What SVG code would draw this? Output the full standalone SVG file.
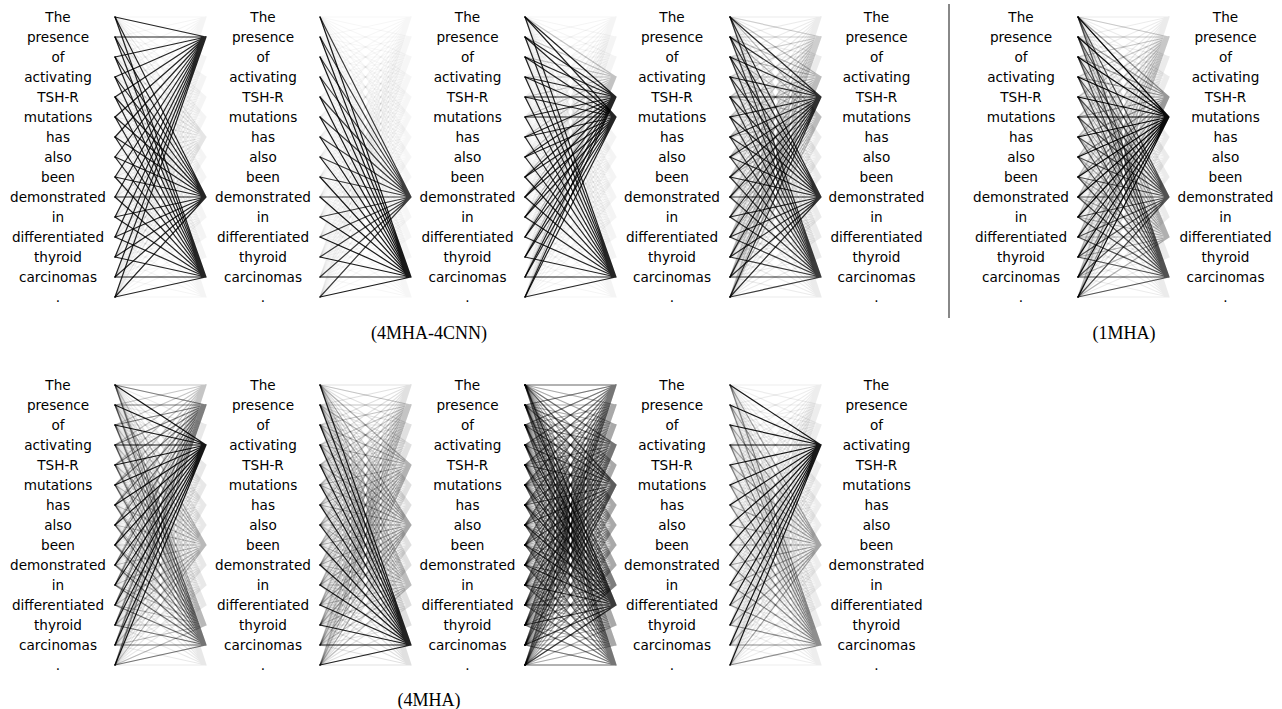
<svg xmlns="http://www.w3.org/2000/svg" xmlns:xlink="http://www.w3.org/1999/xlink" width="1282" height="709" viewBox="0 0 1282 709">
<style>
.w{font-family:"DejaVu Sans","Noto Sans",sans-serif;font-size:13.6px;text-anchor:middle;fill:#000}
.cap{font-family:"Liberation Serif","Times New Roman",serif;font-size:18px;text-anchor:middle;fill:#000}
</style>
<defs>
<g id="mesh">
<path id="f0" d="M0 0L91 0M0 20L91 0M0 40L91 0M0 60L91 0M0 80L91 0M0 100L91 0M0 120L91 0M0 140L91 0M0 160L91 0M0 180L91 0M0 200L91 0M0 220L91 0M0 240L91 0M0 260L91 0M0 280L91 0"/>
<path id="f1" d="M0 0L91 20M0 20L91 20M0 40L91 20M0 60L91 20M0 80L91 20M0 100L91 20M0 120L91 20M0 140L91 20M0 160L91 20M0 180L91 20M0 200L91 20M0 220L91 20M0 240L91 20M0 260L91 20M0 280L91 20"/>
<path id="f2" d="M0 0L91 40M0 20L91 40M0 40L91 40M0 60L91 40M0 80L91 40M0 100L91 40M0 120L91 40M0 140L91 40M0 160L91 40M0 180L91 40M0 200L91 40M0 220L91 40M0 240L91 40M0 260L91 40M0 280L91 40"/>
<path id="f3" d="M0 0L91 60M0 20L91 60M0 40L91 60M0 60L91 60M0 80L91 60M0 100L91 60M0 120L91 60M0 140L91 60M0 160L91 60M0 180L91 60M0 200L91 60M0 220L91 60M0 240L91 60M0 260L91 60M0 280L91 60"/>
<path id="f4" d="M0 0L91 80M0 20L91 80M0 40L91 80M0 60L91 80M0 80L91 80M0 100L91 80M0 120L91 80M0 140L91 80M0 160L91 80M0 180L91 80M0 200L91 80M0 220L91 80M0 240L91 80M0 260L91 80M0 280L91 80"/>
<path id="f5" d="M0 0L91 100M0 20L91 100M0 40L91 100M0 60L91 100M0 80L91 100M0 100L91 100M0 120L91 100M0 140L91 100M0 160L91 100M0 180L91 100M0 200L91 100M0 220L91 100M0 240L91 100M0 260L91 100M0 280L91 100"/>
<path id="f6" d="M0 0L91 120M0 20L91 120M0 40L91 120M0 60L91 120M0 80L91 120M0 100L91 120M0 120L91 120M0 140L91 120M0 160L91 120M0 180L91 120M0 200L91 120M0 220L91 120M0 240L91 120M0 260L91 120M0 280L91 120"/>
<path id="f7" d="M0 0L91 140M0 20L91 140M0 40L91 140M0 60L91 140M0 80L91 140M0 100L91 140M0 120L91 140M0 140L91 140M0 160L91 140M0 180L91 140M0 200L91 140M0 220L91 140M0 240L91 140M0 260L91 140M0 280L91 140"/>
<path id="f8" d="M0 0L91 160M0 20L91 160M0 40L91 160M0 60L91 160M0 80L91 160M0 100L91 160M0 120L91 160M0 140L91 160M0 160L91 160M0 180L91 160M0 200L91 160M0 220L91 160M0 240L91 160M0 260L91 160M0 280L91 160"/>
<path id="f9" d="M0 0L91 180M0 20L91 180M0 40L91 180M0 60L91 180M0 80L91 180M0 100L91 180M0 120L91 180M0 140L91 180M0 160L91 180M0 180L91 180M0 200L91 180M0 220L91 180M0 240L91 180M0 260L91 180M0 280L91 180"/>
<path id="f10" d="M0 0L91 200M0 20L91 200M0 40L91 200M0 60L91 200M0 80L91 200M0 100L91 200M0 120L91 200M0 140L91 200M0 160L91 200M0 180L91 200M0 200L91 200M0 220L91 200M0 240L91 200M0 260L91 200M0 280L91 200"/>
<path id="f11" d="M0 0L91 220M0 20L91 220M0 40L91 220M0 60L91 220M0 80L91 220M0 100L91 220M0 120L91 220M0 140L91 220M0 160L91 220M0 180L91 220M0 200L91 220M0 220L91 220M0 240L91 220M0 260L91 220M0 280L91 220"/>
<path id="f12" d="M0 0L91 240M0 20L91 240M0 40L91 240M0 60L91 240M0 80L91 240M0 100L91 240M0 120L91 240M0 140L91 240M0 160L91 240M0 180L91 240M0 200L91 240M0 220L91 240M0 240L91 240M0 260L91 240M0 280L91 240"/>
<path id="f13" d="M0 0L91 260M0 20L91 260M0 40L91 260M0 60L91 260M0 80L91 260M0 100L91 260M0 120L91 260M0 140L91 260M0 160L91 260M0 180L91 260M0 200L91 260M0 220L91 260M0 240L91 260M0 260L91 260M0 280L91 260"/>
<path id="f14" d="M0 0L91 280M0 20L91 280M0 40L91 280M0 60L91 280M0 80L91 280M0 100L91 280M0 120L91 280M0 140L91 280M0 160L91 280M0 180L91 280M0 200L91 280M0 220L91 280M0 240L91 280M0 260L91 280M0 280L91 280"/>
</g>
</defs>
<rect width="1282" height="709" fill="#fff"/>
<g id="connectors" fill="none" stroke="#000" stroke-width="1.2" stroke-linecap="round">
<!-- T1 -->
<use href="#mesh" x="115" y="17" stroke-opacity=".045"/>
<use href="#f1" x="115" y="17" stroke-opacity=".85"/>
<use href="#f9" x="115" y="17" stroke-opacity=".85"/>
<use href="#f13" x="115" y="17" stroke-opacity=".85"/>
<use href="#f6" x="115" y="17" stroke-opacity=".06"/>
<!-- T2 -->
<use href="#mesh" x="320" y="17" stroke-opacity=".035"/>
<use href="#f13" x="320" y="17" stroke-opacity=".9"/>
<use href="#f9" x="320" y="17" stroke-opacity=".75"/>
<!-- T3 -->
<use href="#mesh" x="525" y="17" stroke-opacity=".045"/>
<use href="#f4" x="525" y="17" stroke-opacity=".85"/>
<use href="#f5" x="525" y="17" stroke-opacity=".85"/>
<use href="#f13" x="525" y="17" stroke-opacity=".85"/>
<use href="#f3" x="525" y="17" stroke-opacity=".2"/>
<!-- T4 -->
<use href="#mesh" x="730" y="17" stroke-opacity=".08"/>
<use href="#f4" x="730" y="17" stroke-opacity=".8"/>
<use href="#f9" x="730" y="17" stroke-opacity=".8"/>
<use href="#f13" x="730" y="17" stroke-opacity=".75"/>
<use href="#f3" x="730" y="17" stroke-opacity=".2"/>
<use href="#f5" x="730" y="17" stroke-opacity=".2"/>
<use href="#f1" x="730" y="17" stroke-opacity=".12"/>
<!-- 1MHA -->
<use href="#mesh" x="1078" y="17" stroke-opacity=".08"/>
<use href="#f5" x="1078" y="17" stroke-opacity=".95"/>
<use href="#f9" x="1078" y="17" stroke-opacity=".65"/>
<use href="#f13" x="1078" y="17" stroke-opacity=".65"/>
<use href="#f4" x="1078" y="17" stroke-opacity=".35"/>
<use href="#f11" x="1078" y="17" stroke-opacity=".25"/>
<use href="#f1" x="1078" y="17" stroke-opacity=".15"/>
<!-- B1 -->
<use href="#mesh" x="115" y="385" stroke-opacity=".09"/>
<use href="#f3" x="115" y="385" stroke-opacity=".9"/>
<use href="#f1" x="115" y="385" stroke-opacity=".45"/>
<use href="#f13" x="115" y="385" stroke-opacity=".5"/>
<use href="#f8" x="115" y="385" stroke-opacity=".2"/>
<use href="#f12" x="115" y="385" stroke-opacity=".2"/>
<use href="#f0" x="115" y="385" stroke-opacity=".15"/>
<!-- B2 -->
<use href="#mesh" x="320" y="385" stroke-opacity=".12"/>
<use href="#f13" x="320" y="385" stroke-opacity=".85"/>
<use href="#f7" x="320" y="385" stroke-opacity=".25"/>
<use href="#f4" x="320" y="385" stroke-opacity=".2"/>
<use href="#f1" x="320" y="385" stroke-opacity=".12"/>
<use href="#f10" x="320" y="385" stroke-opacity=".15"/>
<!-- B3 -->
<use href="#mesh" x="525" y="385" stroke-opacity=".22"/>
<use href="#mesh" x="525" y="385" stroke-opacity=".15"/>
<use href="#f11" x="525" y="385" stroke-opacity=".65"/>
<use href="#f5" x="525" y="385" stroke-opacity=".45"/>
<use href="#f0" x="525" y="385" stroke-opacity=".3"/>
<use href="#f3" x="525" y="385" stroke-opacity=".3"/>
<use href="#f10" x="525" y="385" stroke-opacity=".25"/>
<use href="#f14" x="525" y="385" stroke-opacity=".3"/>
<!-- B4 -->
<use href="#mesh" x="730" y="385" stroke-opacity=".07"/>
<use href="#f3" x="730" y="385" stroke-opacity=".9"/>
<use href="#f8" x="730" y="385" stroke-opacity=".3"/>
<use href="#f13" x="730" y="385" stroke-opacity=".4"/>
</g>
<g id="separator"><line x1="949" y1="4" x2="949" y2="318" stroke="#888" stroke-width="2"/></g>
<g id="col-t1" class="w"><text x="58" y="22"><tspan x="58">The</tspan><tspan x="58" dy="20">presence</tspan><tspan x="58" dy="20">of</tspan><tspan x="58" dy="20">activating</tspan><tspan x="58" dy="20">TSH-R</tspan><tspan x="58" dy="20">mutations</tspan><tspan x="58" dy="20">has</tspan><tspan x="58" dy="20">also</tspan><tspan x="58" dy="20">been</tspan><tspan x="58" dy="20">demonstrated</tspan><tspan x="58" dy="20">in</tspan><tspan x="58" dy="20">differentiated</tspan><tspan x="58" dy="20">thyroid</tspan><tspan x="58" dy="20">carcinomas</tspan><tspan x="58" dy="20">.</tspan></text></g>
<g id="col-t2" class="w"><text x="263" y="22"><tspan x="263">The</tspan><tspan x="263" dy="20">presence</tspan><tspan x="263" dy="20">of</tspan><tspan x="263" dy="20">activating</tspan><tspan x="263" dy="20">TSH-R</tspan><tspan x="263" dy="20">mutations</tspan><tspan x="263" dy="20">has</tspan><tspan x="263" dy="20">also</tspan><tspan x="263" dy="20">been</tspan><tspan x="263" dy="20">demonstrated</tspan><tspan x="263" dy="20">in</tspan><tspan x="263" dy="20">differentiated</tspan><tspan x="263" dy="20">thyroid</tspan><tspan x="263" dy="20">carcinomas</tspan><tspan x="263" dy="20">.</tspan></text></g>
<g id="col-t3" class="w"><text x="467.5" y="22"><tspan x="467.5">The</tspan><tspan x="467.5" dy="20">presence</tspan><tspan x="467.5" dy="20">of</tspan><tspan x="467.5" dy="20">activating</tspan><tspan x="467.5" dy="20">TSH-R</tspan><tspan x="467.5" dy="20">mutations</tspan><tspan x="467.5" dy="20">has</tspan><tspan x="467.5" dy="20">also</tspan><tspan x="467.5" dy="20">been</tspan><tspan x="467.5" dy="20">demonstrated</tspan><tspan x="467.5" dy="20">in</tspan><tspan x="467.5" dy="20">differentiated</tspan><tspan x="467.5" dy="20">thyroid</tspan><tspan x="467.5" dy="20">carcinomas</tspan><tspan x="467.5" dy="20">.</tspan></text></g>
<g id="col-t4" class="w"><text x="672" y="22"><tspan x="672">The</tspan><tspan x="672" dy="20">presence</tspan><tspan x="672" dy="20">of</tspan><tspan x="672" dy="20">activating</tspan><tspan x="672" dy="20">TSH-R</tspan><tspan x="672" dy="20">mutations</tspan><tspan x="672" dy="20">has</tspan><tspan x="672" dy="20">also</tspan><tspan x="672" dy="20">been</tspan><tspan x="672" dy="20">demonstrated</tspan><tspan x="672" dy="20">in</tspan><tspan x="672" dy="20">differentiated</tspan><tspan x="672" dy="20">thyroid</tspan><tspan x="672" dy="20">carcinomas</tspan><tspan x="672" dy="20">.</tspan></text></g>
<g id="col-t5" class="w"><text x="876.5" y="22"><tspan x="876.5">The</tspan><tspan x="876.5" dy="20">presence</tspan><tspan x="876.5" dy="20">of</tspan><tspan x="876.5" dy="20">activating</tspan><tspan x="876.5" dy="20">TSH-R</tspan><tspan x="876.5" dy="20">mutations</tspan><tspan x="876.5" dy="20">has</tspan><tspan x="876.5" dy="20">also</tspan><tspan x="876.5" dy="20">been</tspan><tspan x="876.5" dy="20">demonstrated</tspan><tspan x="876.5" dy="20">in</tspan><tspan x="876.5" dy="20">differentiated</tspan><tspan x="876.5" dy="20">thyroid</tspan><tspan x="876.5" dy="20">carcinomas</tspan><tspan x="876.5" dy="20">.</tspan></text></g>
<g id="col-m1" class="w"><text x="1021" y="22"><tspan x="1021">The</tspan><tspan x="1021" dy="20">presence</tspan><tspan x="1021" dy="20">of</tspan><tspan x="1021" dy="20">activating</tspan><tspan x="1021" dy="20">TSH-R</tspan><tspan x="1021" dy="20">mutations</tspan><tspan x="1021" dy="20">has</tspan><tspan x="1021" dy="20">also</tspan><tspan x="1021" dy="20">been</tspan><tspan x="1021" dy="20">demonstrated</tspan><tspan x="1021" dy="20">in</tspan><tspan x="1021" dy="20">differentiated</tspan><tspan x="1021" dy="20">thyroid</tspan><tspan x="1021" dy="20">carcinomas</tspan><tspan x="1021" dy="20">.</tspan></text></g>
<g id="col-m2" class="w"><text x="1225.5" y="22"><tspan x="1225.5">The</tspan><tspan x="1225.5" dy="20">presence</tspan><tspan x="1225.5" dy="20">of</tspan><tspan x="1225.5" dy="20">activating</tspan><tspan x="1225.5" dy="20">TSH-R</tspan><tspan x="1225.5" dy="20">mutations</tspan><tspan x="1225.5" dy="20">has</tspan><tspan x="1225.5" dy="20">also</tspan><tspan x="1225.5" dy="20">been</tspan><tspan x="1225.5" dy="20">demonstrated</tspan><tspan x="1225.5" dy="20">in</tspan><tspan x="1225.5" dy="20">differentiated</tspan><tspan x="1225.5" dy="20">thyroid</tspan><tspan x="1225.5" dy="20">carcinomas</tspan><tspan x="1225.5" dy="20">.</tspan></text></g>
<g id="col-b1" class="w"><text x="58" y="390"><tspan x="58">The</tspan><tspan x="58" dy="20">presence</tspan><tspan x="58" dy="20">of</tspan><tspan x="58" dy="20">activating</tspan><tspan x="58" dy="20">TSH-R</tspan><tspan x="58" dy="20">mutations</tspan><tspan x="58" dy="20">has</tspan><tspan x="58" dy="20">also</tspan><tspan x="58" dy="20">been</tspan><tspan x="58" dy="20">demonstrated</tspan><tspan x="58" dy="20">in</tspan><tspan x="58" dy="20">differentiated</tspan><tspan x="58" dy="20">thyroid</tspan><tspan x="58" dy="20">carcinomas</tspan><tspan x="58" dy="20">.</tspan></text></g>
<g id="col-b2" class="w"><text x="263" y="390"><tspan x="263">The</tspan><tspan x="263" dy="20">presence</tspan><tspan x="263" dy="20">of</tspan><tspan x="263" dy="20">activating</tspan><tspan x="263" dy="20">TSH-R</tspan><tspan x="263" dy="20">mutations</tspan><tspan x="263" dy="20">has</tspan><tspan x="263" dy="20">also</tspan><tspan x="263" dy="20">been</tspan><tspan x="263" dy="20">demonstrated</tspan><tspan x="263" dy="20">in</tspan><tspan x="263" dy="20">differentiated</tspan><tspan x="263" dy="20">thyroid</tspan><tspan x="263" dy="20">carcinomas</tspan><tspan x="263" dy="20">.</tspan></text></g>
<g id="col-b3" class="w"><text x="467.5" y="390"><tspan x="467.5">The</tspan><tspan x="467.5" dy="20">presence</tspan><tspan x="467.5" dy="20">of</tspan><tspan x="467.5" dy="20">activating</tspan><tspan x="467.5" dy="20">TSH-R</tspan><tspan x="467.5" dy="20">mutations</tspan><tspan x="467.5" dy="20">has</tspan><tspan x="467.5" dy="20">also</tspan><tspan x="467.5" dy="20">been</tspan><tspan x="467.5" dy="20">demonstrated</tspan><tspan x="467.5" dy="20">in</tspan><tspan x="467.5" dy="20">differentiated</tspan><tspan x="467.5" dy="20">thyroid</tspan><tspan x="467.5" dy="20">carcinomas</tspan><tspan x="467.5" dy="20">.</tspan></text></g>
<g id="col-b4" class="w"><text x="672" y="390"><tspan x="672">The</tspan><tspan x="672" dy="20">presence</tspan><tspan x="672" dy="20">of</tspan><tspan x="672" dy="20">activating</tspan><tspan x="672" dy="20">TSH-R</tspan><tspan x="672" dy="20">mutations</tspan><tspan x="672" dy="20">has</tspan><tspan x="672" dy="20">also</tspan><tspan x="672" dy="20">been</tspan><tspan x="672" dy="20">demonstrated</tspan><tspan x="672" dy="20">in</tspan><tspan x="672" dy="20">differentiated</tspan><tspan x="672" dy="20">thyroid</tspan><tspan x="672" dy="20">carcinomas</tspan><tspan x="672" dy="20">.</tspan></text></g>
<g id="col-b5" class="w"><text x="876.5" y="390"><tspan x="876.5">The</tspan><tspan x="876.5" dy="20">presence</tspan><tspan x="876.5" dy="20">of</tspan><tspan x="876.5" dy="20">activating</tspan><tspan x="876.5" dy="20">TSH-R</tspan><tspan x="876.5" dy="20">mutations</tspan><tspan x="876.5" dy="20">has</tspan><tspan x="876.5" dy="20">also</tspan><tspan x="876.5" dy="20">been</tspan><tspan x="876.5" dy="20">demonstrated</tspan><tspan x="876.5" dy="20">in</tspan><tspan x="876.5" dy="20">differentiated</tspan><tspan x="876.5" dy="20">thyroid</tspan><tspan x="876.5" dy="20">carcinomas</tspan><tspan x="876.5" dy="20">.</tspan></text></g>
<g id="captions" class="cap">
<text x="429" y="339">(4MHA-4CNN)</text>
<text x="1124" y="339">(1MHA)</text>
<text x="429" y="706">(4MHA)</text>
</g>
</svg>
